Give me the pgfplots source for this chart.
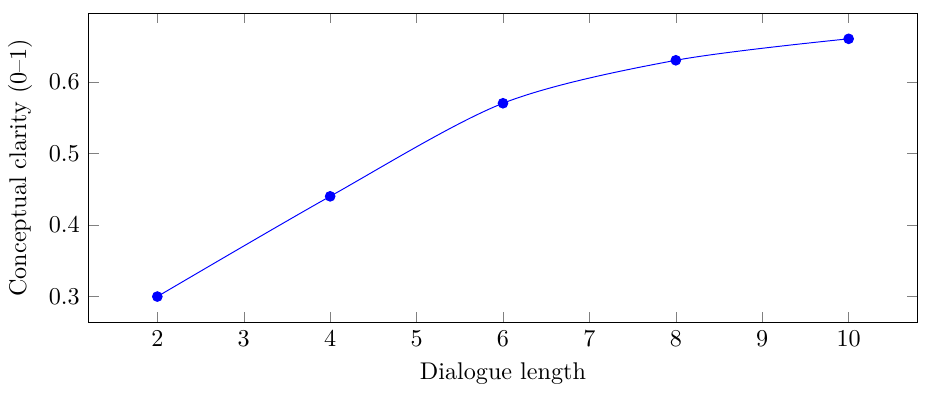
\documentclass[border=0pt]{standalone}
\usepackage{pgfplots}
\pgfplotsset{compat=1.18}
\begin{document}
\begin{tikzpicture}
\begin{axis}[
    width=12.07cm, height=4.5cm,
    scale only axis,
    xlabel={Dialogue length},
    ylabel={Conceptual clarity (0--1)},
    xtick={2,3,...,10},
    ytick={0.3,0.4,0.5,0.6},
    yticklabel style={/pgf/number format/fixed, /pgf/number format/precision=1},
]
\addplot[blue, smooth, mark=*, mark options={fill=blue}]
    coordinates {
        (2,0.30)
        (4,0.44)
        (6,0.57)
        (8,0.63)
        (10,0.66)
    };
\end{axis}
% white margin as in the reference
\path (current axis.north east) ++(6.3pt,5.4pt);
\path (current axis.below south west) ++(0,-2pt);
\end{tikzpicture}
\end{document}
